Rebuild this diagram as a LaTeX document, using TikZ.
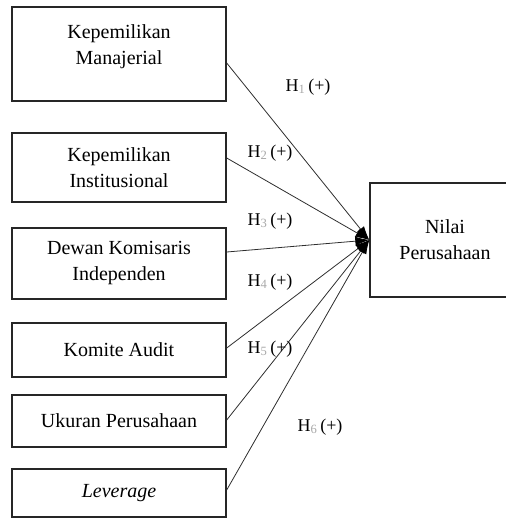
\documentclass[tikz,border=0pt]{standalone}
\usepackage{fontspec}
\setmainfont{Liberation Serif}
\definecolor{mLineGray}{HTML}{2E2E2E}
\definecolor{mBoxGray}{HTML}{262626}
\definecolor{mSubGray}{HTML}{A8A8A8}
\usetikzlibrary{positioning,arrows.meta}
\newcommand\hypo[1]{H\textsubscript{\color{mSubGray}#1}\,(+)}

\begin{document}
\begin{tikzpicture}[x=1bp, y=-1bp,
  varbox/.style={draw=mBoxGray, line width=1.4bp, minimum width=214bp, align=center, inner sep=0pt, font=\fontsize{20bp}{26bp}\selectfont},
  hyp/.style={inner sep=0pt, font=\fontsize{18bp}{20bp}\selectfont},
  link/.style={mLineGray, line width=0.8bp, -{Latex[length=14bp,width=9bp,color=black]}}]
\useasboundingbox (0,0) rectangle (506,518);
% independent variables
\node[varbox, minimum height=94bp, text depth=18bp] (km) at (119,54) {Kepemilikan\\Manajerial};
\node[varbox, minimum height=69bp] (ki) at (119,167.5) {Kepemilikan\\Institusional};
\node[varbox, minimum height=71bp] (dk) at (119,263.5) {Dewan Komisaris\\Independen};
\node[varbox, minimum height=54bp] (ka) at (119,350) {Komite Audit};
\node[varbox, minimum height=52bp] (up) at (119,421) {Ukuran Perusahaan};
\node[varbox, minimum height=48bp] (lev) at (119,493) {\itshape Leverage};
% dependent variable (cut off at the right edge)
\node[varbox, minimum width=150bp, minimum height=114bp] (nv) at (445,240) {Nilai\\Perusahaan};
% paths
\draw[link] ([yshift=-9bp]km.east) -- (nv.west);
\draw[link] ([yshift=9.5bp]ki.east) -- (nv.west);
\draw[link] ([yshift=11.5bp]dk.east) -- (nv.west);
\draw[link] ([yshift=2bp]ka.east) -- (nv.west);
\draw[link] ([yshift=1bp]up.east) -- (nv.west);
\draw[link] ([yshift=3bp]lev.east) -- (nv.west);
% hypotheses
\node[hyp] (h1) at (308,87) {\hypo{1}};
\node[hyp] (h2) at (270,153) {\hypo{2}};
\node[hyp] (h3) at (270,221) {\hypo{3}};
\node[hyp] (h4) at (270,282) {\hypo{4}};
\node[hyp] (h5) at (270,349) {\hypo{5}};
\node[hyp] (h6) at (320,427) {\hypo{6}};
\end{tikzpicture}
\end{document}
